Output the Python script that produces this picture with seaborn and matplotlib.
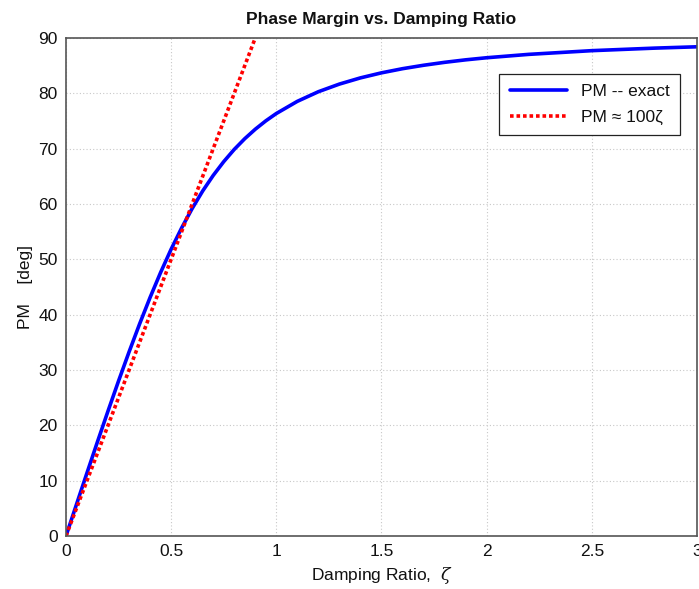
import numpy as np
import pandas as pd
import matplotlib
matplotlib.use("Agg")
import matplotlib.pyplot as plt
import seaborn as sns

# damping ratio and phase margin
zeta = [0.0, 0.05, 0.1, 0.15, 0.2, 0.25, 0.3, 0.35, 0.4, 0.45, 0.5, 0.55,
        0.6, 0.65, 0.7, 0.75, 0.8, 0.85, 0.9, 0.95, 1.0, 1.1, 1.2, 1.3,
        1.4, 1.5, 1.6, 1.7, 1.8, 1.9, 2.0, 2.2, 2.5, 2.8, 3.0]
pm_exact = [0.0, 5.72, 11.42, 17.06, 22.6, 28.02, 33.27, 38.32, 43.12, 47.63,
            51.83, 55.68, 59.18, 62.35, 65.16, 67.65, 69.86, 71.80, 73.51,
            75.02, 76.35, 78.55, 80.29, 81.67, 82.79, 83.70, 84.45, 85.07,
            85.60, 86.05, 86.43, 87.04, 87.71, 88.17, 88.41]

# straight-line approximation PM ~ 100*zeta
zeta_approx = [0.0, 0.9]
pm_approx = [0.0, 90.0]

df_exact = pd.DataFrame({"zeta": zeta, "pm": pm_exact})
df_approx = pd.DataFrame({"zeta": zeta_approx, "pm": pm_approx})

sns.set_style("white")
plt.rcParams['font.family'] = ['Liberation Sans', 'DejaVu Sans']
plt.rcParams['mathtext.fontset'] = 'dejavuserif'

fig = plt.figure(figsize=(6.99, 5.89), dpi=100)
ax = fig.add_axes([0.0944, 0.09, 0.9026, 0.8455])

sns.lineplot(data=df_exact, x="zeta", y="pm", ax=ax, color="#0000ff",
             linewidth=2.6, label="PM -- exact")
sns.lineplot(data=df_approx, x="zeta", y="pm", ax=ax, color="#ff0000",
             linewidth=2.6, linestyle=(0, (1.0, 0.8)), label="PM ≈ 100ζ")

ax.set_xlim(0, 3)
ax.set_ylim(0, 90)
ax.set_xticks(np.arange(0, 3.01, 0.5))
ax.set_xticklabels(["0", "0.5", "1", "1.5", "2", "2.5", "3"])
ax.set_yticks(np.arange(0, 91, 10))
ax.grid(True, color="#c8c8c8", linestyle=(0, (1, 2)), linewidth=0.8)
ax.tick_params(direction="in", length=5, labelsize=12.5, color="#555555",
               labelcolor="#111111", pad=6)
for s in ax.spines.values():
    s.set_color("#555555")
    s.set_linewidth(1.2)

ax.set_title("Phase Margin vs. Damping Ratio", fontsize=12.5,
             fontweight="bold", pad=10, color="#111111")
ax.set_xlabel(r"Damping Ratio,  $\zeta$", fontsize=12.5, color="#111111")
ax.set_ylabel("PM    [deg]", fontsize=12.5, color="#111111")

leg = ax.legend(loc="upper right", bbox_to_anchor=(0.973, 0.928),
                fontsize=12.5, fancybox=False, edgecolor="#222222",
                framealpha=1, borderaxespad=0, handlelength=3.3,
                borderpad=0.6, labelspacing=0.6)
leg.get_frame().set_linewidth(0.9)
for t in leg.get_texts():
    t.set_color("#111111")

fig.savefig("out.png", dpi=100)
